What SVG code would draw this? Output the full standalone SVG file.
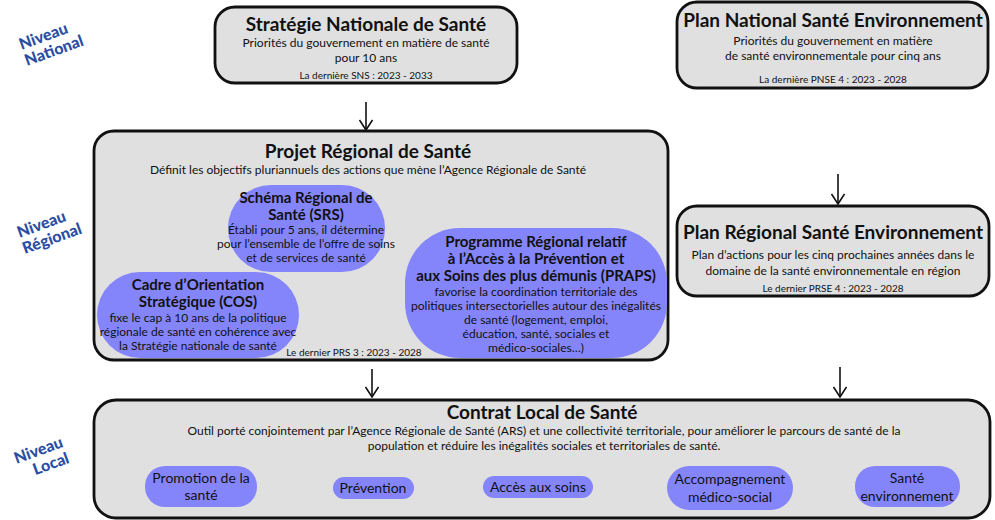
<svg xmlns="http://www.w3.org/2000/svg" width="995" height="520" viewBox="0 0 995 520">
<defs>
<style>
.box{fill:#e0e0e0;stroke:#111;stroke-width:2.8}
.blob{fill:#8585fb;stroke:none}
.t{font-family:Lato,"Liberation Sans",sans-serif;fill:#111;text-anchor:middle}
.h{font-weight:bold;font-size:19px}
.hb{font-weight:bold;font-size:15px}
.s{font-size:12px}
.f{font-size:10px}
.p{font-size:14px}
.lv{font-family:Lato,"Liberation Sans",sans-serif;font-weight:900;font-size:16px;fill:#2b4ea3;text-anchor:middle}
.c{stroke:#111;stroke-width:1.6;fill:none}
</style>
<marker id="ah" viewBox="0 0 12 14" refX="11" refY="7" markerWidth="12" markerHeight="14" markerUnits="userSpaceOnUse" orient="auto">
<path d="M1,0.5 L11,7 L1,13.5" fill="none" stroke="#111" stroke-width="1.6"/>
</marker>
</defs>
<rect width="995" height="520" fill="#fff"/>

<g id="levels">
<text class="lv" transform="translate(47,46) rotate(-20)"><tspan x="0" y="-5">Niveau</tspan><tspan x="5" y="12">National</tspan></text>
<text class="lv" transform="translate(45,234) rotate(-20)"><tspan x="0" y="-5">Niveau</tspan><tspan x="5" y="12">Régional</tspan></text>
<text class="lv" transform="translate(42,460) rotate(-20)"><tspan x="0" y="-5">Niveau</tspan><tspan x="7" y="12">Local</tspan></text>
</g>

<g id="connectors">
<line class="c" x1="366" y1="102" x2="366" y2="130" marker-end="url(#ah)"/>
<line class="c" x1="838" y1="174" x2="838" y2="204" marker-end="url(#ah)"/>
<line class="c" x1="372" y1="369" x2="372" y2="397" marker-end="url(#ah)"/>
<line class="c" x1="840" y1="367" x2="840" y2="397" marker-end="url(#ah)"/>
</g>

<g id="sns">
<rect class="box" x="215" y="7" width="302" height="76" rx="20"/>
<text class="t h" x="366" y="31">Stratégie Nationale de Santé</text>
<text class="t s" x="366" y="47">Priorités du gouvernement en matière de santé</text>
<text class="t s" x="366" y="62">pour 10 ans</text>
<text class="t f" x="366" y="79">La dernière SNS : 2023 - 2033</text>
</g>

<g id="pnse">
<rect class="box" x="677" y="2" width="311" height="86" rx="20"/>
<text class="t h" x="833" y="27">Plan National Santé Environnement</text>
<text class="t s" x="833" y="45">Priorités du gouvernement en matière</text>
<text class="t s" x="833" y="60">de santé environnementale pour cinq ans</text>
<text class="t f" x="833" y="83">La dernière PNSE 4 : 2023 - 2028</text>
</g>

<g id="prs">
<rect class="box" x="94" y="131" width="574" height="229" rx="20"/>
<text class="t h" x="368" y="158">Projet Régional de Santé</text>
<text class="t s" x="368" y="174">Définit les objectifs pluriannuels des actions que mène l’Agence Régionale de Santé</text>
<text class="t f" x="354" y="356">Le dernier PRS 3 : 2023 - 2028</text>
</g>

<g id="srs">
<rect class="blob" x="228" y="185" width="157" height="87" rx="43"/>
<text class="t hb" x="306" y="203">Schéma Régional de</text>
<text class="t hb" x="306" y="220">Santé (SRS)</text>
<text class="t s" x="306" y="234">Établi pour 5 ans, il détermine</text>
<text class="t s" x="306" y="248">pour l’ensemble de l’offre de soins</text>
<text class="t s" x="306" y="262">et de services de santé</text>
</g>

<g id="cos">
<rect class="blob" x="97" y="272" width="202" height="86" rx="43"/>
<text class="t hb" x="198" y="290">Cadre d’Orientation</text>
<text class="t hb" x="198" y="307">Stratégique (COS)</text>
<text class="t s" x="198" y="322">fixe le cap à 10 ans de la politique</text>
<text class="t s" x="198" y="336">régionale de santé en cohérence avec</text>
<text class="t s" x="198" y="350">la Stratégie nationale de santé</text>
</g>

<g id="praps">
<rect class="blob" x="405" y="228" width="262" height="130" rx="55"/>
<text class="t hb" x="536" y="247">Programme Régional relatif</text>
<text class="t hb" x="536" y="264">à l’Accès à la Prévention et</text>
<text class="t hb" x="536" y="281">aux Soins des plus démunis (PRAPS)</text>
<text class="t s" x="536" y="296">favorise la coordination territoriale des</text>
<text class="t s" x="536" y="310">politiques intersectorielles autour des inégalités</text>
<text class="t s" x="536" y="324">de santé (logement, emploi,</text>
<text class="t s" x="536" y="338">éducation, santé, sociales et</text>
<text class="t s" x="536" y="352">médico-sociales…)</text>
</g>

<g id="prse">
<rect class="box" x="677" y="206" width="312" height="90" rx="20"/>
<text class="t h" x="833" y="239">Plan Régional Santé Environnement</text>
<text class="t s" x="833" y="259">Plan d’actions pour les cinq prochaines années dans le</text>
<text class="t s" x="833" y="275">domaine de la santé environnementale en région</text>
<text class="t f" x="833" y="292">Le dernier PRSE 4 : 2023 - 2028</text>
</g>

<g id="cls">
<rect class="box" x="94" y="400" width="896" height="118" rx="22"/>
<text class="t h" x="542" y="419">Contrat Local de Santé</text>
<text class="t s" x="544" y="435">Outil porté conjointement par l’Agence Régionale de Santé (ARS) et une collectivité territoriale, pour améliorer le parcours de santé de la</text>
<text class="t s" x="544" y="450">population et réduire les inégalités sociales et territoriales de santé.</text>
</g>

<g id="promotion">
<rect class="blob" x="145" y="466" width="112" height="41" rx="20"/>
<text class="t p" x="201" y="483">Promotion de la</text>
<text class="t p" x="201" y="500">santé</text>
</g>
<g id="prevention">
<rect class="blob" x="333" y="477" width="81" height="22" rx="11"/>
<text class="t p" x="373" y="493">Prévention</text>
</g>
<g id="acces">
<rect class="blob" x="483" y="476" width="110" height="22" rx="11"/>
<text class="t p" x="538" y="492">Accès aux soins</text>
</g>
<g id="accompagnement">
<rect class="blob" x="667" y="466" width="126" height="44" rx="22"/>
<text class="t p" x="730" y="484">Accompagnement</text>
<text class="t p" x="730" y="502">médico-social</text>
</g>
<g id="sante-env">
<rect class="blob" x="855" y="466" width="105" height="41" rx="20"/>
<text class="t p" x="907" y="483">Santé</text>
<text class="t p" x="907" y="501">environnement</text>
</g>
</svg>
